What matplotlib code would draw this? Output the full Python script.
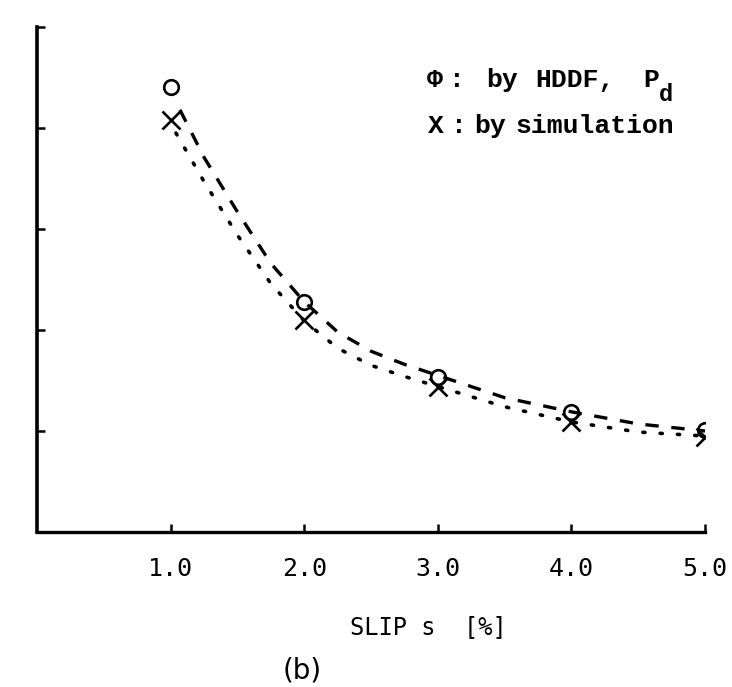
import matplotlib.pyplot as plt

# values
slip = [1.0, 2.0, 3.0, 4.0, 5.0]
p_hddf = [4.41, 2.28, 1.53, 1.19, 1.01]
p_sim = [4.08, 2.10, 1.44, 1.09, 0.94]

# points
curve_x_hddf = [1.07, 1.25, 1.5, 1.75, 2.0, 2.25, 2.5, 2.75, 3.0, 3.5, 4.0, 4.5, 5.0]
curve_y_hddf = [4.18, 3.71, 3.17, 2.66, 2.28, 1.98, 1.79, 1.66, 1.55, 1.33, 1.19, 1.07, 1.0]
curve_x_sim = [1.04, 1.25, 1.5, 1.75, 2.0, 2.25, 2.5, 2.75, 3.0, 3.5, 4.0, 4.5, 5.0]
curve_y_sim = [3.95, 3.47, 2.94, 2.46, 2.09, 1.82, 1.65, 1.54, 1.44, 1.24, 1.09, 0.99, 0.95]

x_ticks = [1.0, 2.0, 3.0, 4.0, 5.0]
x_tick_labels = ["1.0", "2.0", "3.0", "4.0", "5.0"]
y_ticks = [0, 1, 2, 3, 4, 5]

W, H = 732, 687
MONO = 'DejaVu Sans Mono'
TYPE = 'Liberation Mono'


def fx(px):
    return px / W


def fy(py):
    return 1 - py / H


plt.rcParams['font.family'] = [MONO, 'DejaVu Sans']

fig = plt.figure(figsize=(W / 100, H / 100), dpi=100)
ax = fig.add_axes([fx(37), fy(532), fx(705) - fx(37), fy(27) - fy(532)])

# curves
ax.plot(curve_x_hddf, curve_y_hddf, color='black', lw=2.4,
        linestyle=(0, (4.0, 3.8)))
ax.plot(curve_x_sim, curve_y_sim, color='black', lw=2.6,
        linestyle=(0, (0.6, 4.2)), dash_capstyle='round')

# data marks
ax.plot(slip, p_hddf, linestyle='none', marker='o', ms=10.5, mfc='none',
        mec='black', mew=1.9)
ax.plot(slip, p_sim, linestyle='none', marker='x', ms=13, mec='black',
        mew=1.9)

ax.set_xlim(0, 5.0)
ax.set_ylim(0, 5)
ax.set_xticks(x_ticks)
ax.set_xticklabels(x_tick_labels, fontsize=18, family=MONO)
ax.set_yticks(y_ticks)
ax.set_yticklabels([''] * len(y_ticks))
ax.tick_params(direction='in', length=6, width=1.8)
ax.tick_params(axis='x', pad=18)

ax.spines['top'].set_visible(False)
ax.spines['right'].set_visible(False)
ax.spines['left'].set_linewidth(2.6)
ax.spines['bottom'].set_linewidth(2.4)

# legend written as typewriter text, like the original
fs = 19
kw = dict(fontsize=fs, va='baseline', family=TYPE, weight='bold')
fig.text(fx(427), fy(87), "Φ", **kw)
fig.text(fx(449), fy(87), ":", **kw)
fig.text(fx(486), fy(87), "by", **kw)
fig.text(fx(535), fy(87), "HDDF,", **kw)
fig.text(fx(643), fy(87), "P", **kw)
fig.text(fx(659), fy(101), "d", fontsize=17, va='baseline', family=TYPE,
         weight='bold')

fig.text(fx(428), fy(133), "X", **kw)
fig.text(fx(451), fy(133), ":", **kw)
fig.text(fx(474), fy(133), "by", **kw)
fig.text(fx(515), fy(133), "simulation", **kw)

# axis title and panel tag
fig.text(fx(350), fy(634), "SLIP s  [%]", fontsize=17, va='baseline')
fig.text(fx(302), fy(670), "(b)", fontsize=20, ha='center', va='center',
         family='DejaVu Sans')

fig.savefig('out.png', dpi=100)
